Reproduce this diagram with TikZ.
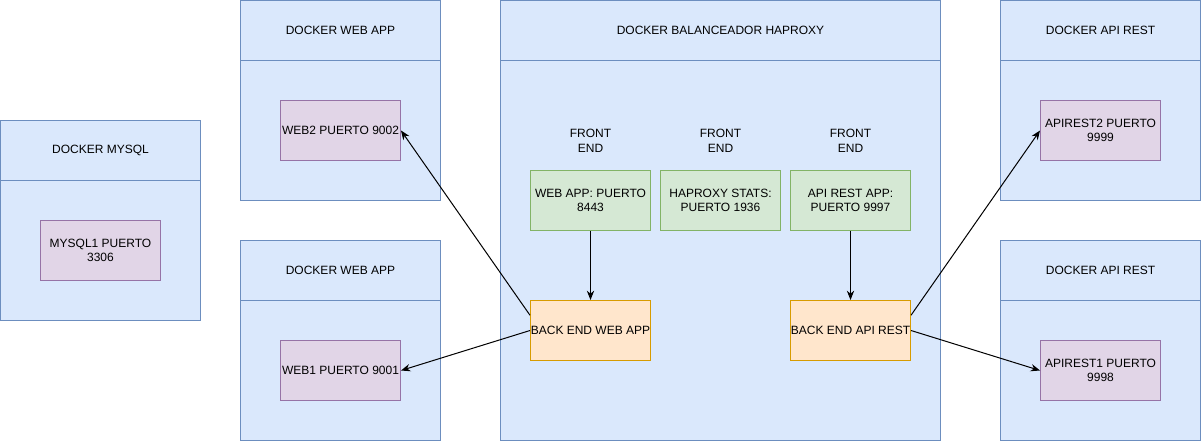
\documentclass[tikz,border=0pt]{standalone}
\usepackage{fontspec}
\setmainfont{Liberation Sans}
\usetikzlibrary{calc, arrows.meta}

\definecolor{lanefill}{HTML}{DAE8FC}
\definecolor{laneline}{HTML}{6C8EBF}
\definecolor{portfill}{HTML}{E1D5E7}
\definecolor{portline}{HTML}{9673A6}
\definecolor{frontfill}{HTML}{D5E8D4}
\definecolor{frontline}{HTML}{82B366}
\definecolor{backfill}{HTML}{FFE6CC}
\definecolor{backline}{HTML}{D79B00}

\tikzset{
	every node/.style = {font=\fontsize{9}{11}\selectfont, align=center, inner sep=0pt},
	lanehead/.style = {draw=laneline, fill=lanefill, line width=0.75pt, minimum width=150pt, minimum height=45pt},
	lanebody/.style = {draw=laneline, fill=lanefill, line width=0.75pt, minimum width=150pt, minimum height=105pt},
	port/.style = {draw=portline, fill=portfill, line width=0.75pt, minimum width=90pt, minimum height=45pt},
	frontbox/.style = {draw=frontline, fill=frontfill, line width=0.75pt, minimum width=90pt, minimum height=45pt},
	backbox/.style = {draw=backline, fill=backfill, line width=0.75pt, minimum width=90pt, minimum height=45pt},
	link/.style = {line width=0.75pt, -{Stealth[length=7pt, width=5.5pt]}}
}

\begin{document}
\begin{tikzpicture}[x=0.75pt, y=-0.75pt]
	\useasboundingbox (-0.5,-0.5) rectangle (1200.5,440.5);
	
	% mysql
	\node [lanehead] (mysql head) at (100,150) {DOCKER MYSQL};
	\node [lanebody] (mysql body) at (100,250) {};
	\node [port] (mysql1) at (100,250) {MYSQL1 PUERTO\\3306};
	
	% web apps
	\node [lanehead] (web top head) at (340,30) {DOCKER WEB APP};
	\node [lanebody] (web top body) at (340,130) {};
	\node [port] (web2) at (340,130) {WEB2 PUERTO 9002};
	
	\node [lanehead] (web bottom head) at (340,270) {DOCKER WEB APP};
	\node [lanebody] (web bottom body) at (340,370) {};
	\node [port] (web1) at (340,370) {WEB1 PUERTO 9001};
	
	% haproxy
	\node [lanehead, minimum width=330pt] (haproxy head) at (720,30) {DOCKER BALANCEADOR HAPROXY};
	\node [lanebody, minimum width=330pt, minimum height=285pt] (haproxy body) at (720,250) {};
	
	\node (front web label) at (590,140) {FRONT\\END};
	\node (front stats label) at (720,140) {FRONT\\END};
	\node (front api label) at (850,140) {FRONT\\END};
	
	\node [frontbox] (front web) at (590,200) {WEB APP: PUERTO\\8443};
	\node [frontbox] (front stats) at (720,200) {HAPROXY STATS:\\PUERTO 1936};
	\node [frontbox] (front api) at (850,200) {API REST APP:\\PUERTO 9997};
	
	\node [backbox] (back web) at (590,330) {BACK END WEB APP};
	\node [backbox] (back api) at (850,330) {BACK END API REST};
	
	% api rest
	\node [lanehead] (api top head) at (1100,30) {DOCKER API REST};
	\node [lanebody] (api top body) at (1100,130) {};
	\node [port] (apirest2) at (1100,130) {APIREST2 PUERTO\\9999};
	
	\node [lanehead] (api bottom head) at (1100,270) {DOCKER API REST};
	\node [lanebody] (api bottom body) at (1100,370) {};
	\node [port] (apirest1) at (1100,370) {APIREST1 PUERTO\\9998};
	
	% links
	\draw [link] (front web) -- (back web);
	\draw [link] (front api) -- (back api);
	
	\draw [link] ($ (back web.north west)!0.25!(back web.south west) $) -- (web2.east);
	\draw [link] (back web.west) -- (web1.east);
	\draw [link] ($ (back api.north east)!0.25!(back api.south east) $) -- (apirest2.west);
	\draw [link] (back api.east) -- (apirest1.west);
\end{tikzpicture}
\end{document}
